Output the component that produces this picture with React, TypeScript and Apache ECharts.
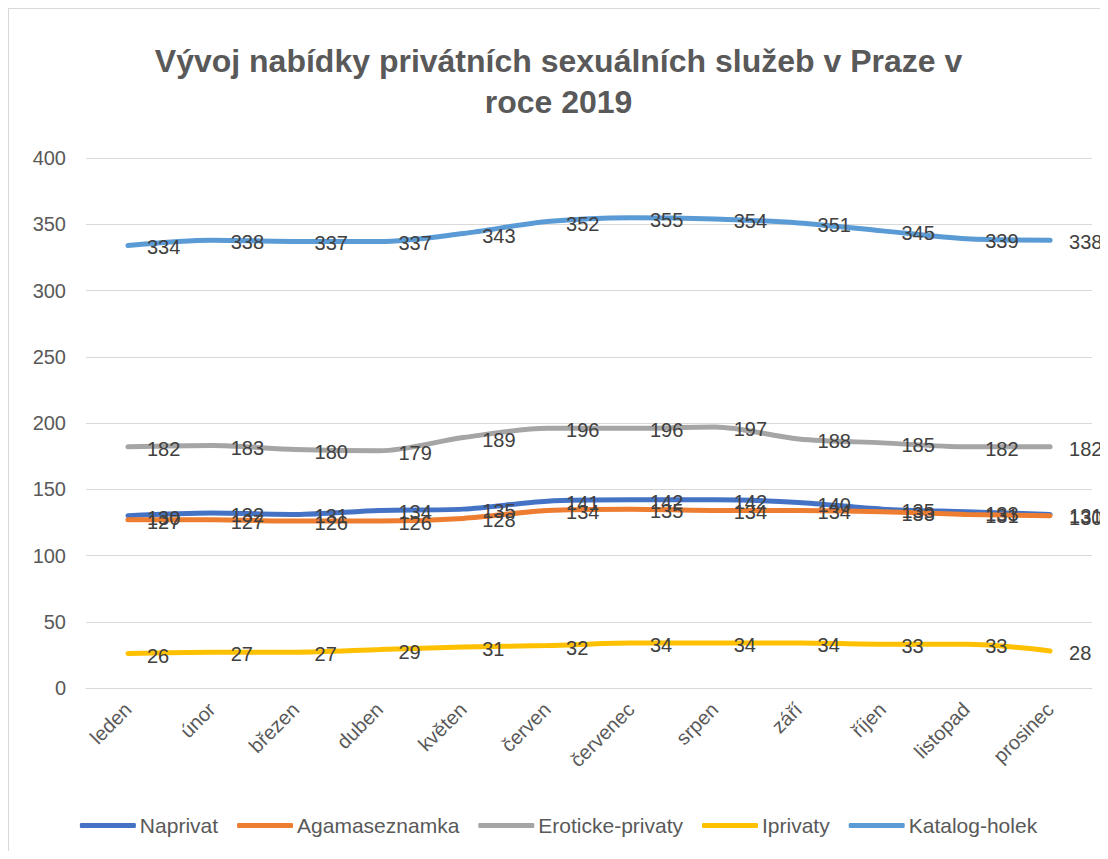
import React, { useEffect, useRef } from "react";
import * as echarts from "echarts";

const categories = ["leden", "únor", "březen", "duben", "květen", "červen", "červenec", "srpen", "září", "říjen", "listopad", "prosinec"];
const naprivat = [130, 132, 131, 134, 135, 141, 142, 142, 140, 135, 133, 131];
const agamaseznamka = [127, 127, 126, 126, 128, 134, 135, 134, 134, 133, 131, 130];
const erotickePrivaty = [182, 183, 180, 179, 189, 196, 196, 197, 188, 185, 182, 182];
const iprivaty = [26, 27, 27, 29, 31, 32, 34, 34, 34, 33, 33, 28];
const katalogHolek = [334, 338, 337, 337, 343, 352, 355, 354, 351, 345, 339, 338];
const yTicks = [0, 50, 100, 150, 200, 250, 300, 350, 400];

const FONT = "'Liberation Sans', 'Open Sans', sans-serif";

export default function App() {
  const ref = useRef<HTMLDivElement>(null);
  useEffect(() => {
    document.documentElement.style.overflow = "hidden";
    document.body.style.overflow = "hidden";
    if (!ref.current) return;
    const chart = echarts.init(ref.current, undefined, { renderer: "svg" });
    const mk = (name: string, data: number[], color: string) => ({
      name,
      type: "line",
      data,
      smooth: 0.3,
      symbol: "circle",
      symbolSize: 0,
      showSymbol: true,
      lineStyle: { width: 5, color, cap: "round" },
      itemStyle: { color },
      label: {
        show: true,
        position: "right",
        distance: 19,
        color: "#404040",
        fontSize: 20,
        fontFamily: FONT,
        offset: [0, 2],
      },
    });
    chart.setOption({
      animation: false,
      backgroundColor: "#fff",
      title: {
        text: "Vývoj nabídky privátních sexuálních služeb v Praze v\nroce 2019",
        left: "center",
        top: 26,
        textStyle: {
          fontSize: 32,
          fontWeight: "bold",
          color: "#595959",
          fontFamily: FONT,
          lineHeight: 41,
          align: "center",
        },
      },
      grid: { left: 77, right: 16, top: 149, bottom: 163, containLabel: false },
      xAxis: {
        type: "category",
        data: categories,
        boundaryGap: true,
        axisLine: { lineStyle: { color: "#d9d9d9", width: 1 } },
        axisTick: { show: false },
        axisLabel: {
          rotate: 45,
          fontSize: 20,
          color: "#595959",
          fontFamily: FONT,
          margin: 18,
          interval: 0,
        },
      },
      yAxis: {
        type: "value",
        min: yTicks[0],
        max: yTicks[yTicks.length - 1],
        interval: 50,
        axisLine: { show: false },
        axisTick: { show: false },
        splitLine: { lineStyle: { color: "#d9d9d9", width: 1 } },
        axisLabel: { fontSize: 20, color: "#595959", fontFamily: FONT, margin: 20 },
      },
      legend: {
        bottom: 10,
        left: "center",
        icon: "roundRect",
        itemWidth: 56,
        itemHeight: 5,
        itemGap: 19,
        textStyle: { fontSize: 21, color: "#595959", fontFamily: FONT, padding: [0, 0, 0, -1] },
        data: ["Naprivat", "Agamaseznamka", "Eroticke-privaty", "Iprivaty", "Katalog-holek"],
      },
      series: [
        mk("Naprivat", naprivat, "#4472C4"),
        mk("Agamaseznamka", agamaseznamka, "#ED7D31"),
        mk("Eroticke-privaty", erotickePrivaty, "#A5A5A5"),
        mk("Iprivaty", iprivaty, "#FFC000"),
        mk("Katalog-holek", katalogHolek, "#5B9BD5"),
      ],
    });
    return () => chart.dispose();
  }, []);
  return (
    <div
      ref={ref}
      style={{
        width: 1100,
        height: 843,
        borderLeft: "1px solid #d9d9d9",
        borderTop: "1px solid #d9d9d9",
        boxSizing: "border-box",
      }}
    />
  );
}
